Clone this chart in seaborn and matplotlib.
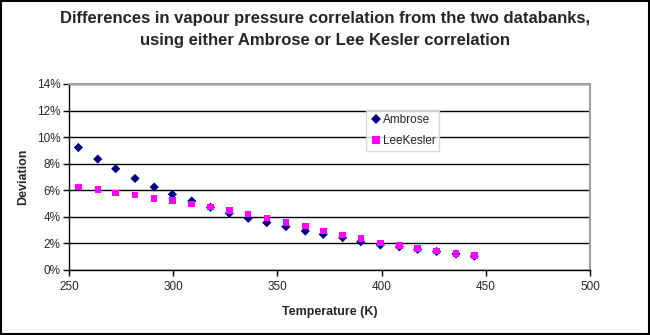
import matplotlib
matplotlib.use("Agg")
import matplotlib.pyplot as plt
import seaborn as sns
import pandas as pd
from matplotlib.ticker import PercentFormatter, MultipleLocator

temperature = [254.5, 263.8, 272.4, 281.7, 290.9, 299.6, 308.9, 317.9, 326.9, 336.0, 344.9,
               354.1, 363.4, 372.0, 381.3, 390.0, 399.4, 408.5, 417.3, 426.4, 435.7, 444.5]
ambrose = [9.22, 8.35, 7.62, 6.89, 6.24, 5.69, 5.19, 4.72, 4.26, 3.89, 3.56,
           3.26, 2.93, 2.68, 2.43, 2.13, 1.88, 1.75, 1.55, 1.39, 1.21, 1.04]
leekesler = [6.26, 6.04, 5.79, 5.64, 5.39, 5.24, 4.98, 4.74, 4.49, 4.23, 3.93,
             3.58, 3.31, 2.95, 2.65, 2.38, 2.05, 1.83, 1.60, 1.43, 1.26, 1.08]
series_names = ["Ambrose", "LeeKesler"]

df = pd.concat([
    pd.DataFrame({"T": temperature, "dev": ambrose, "series": series_names[0]}),
    pd.DataFrame({"T": temperature, "dev": leekesler, "series": series_names[1]}),
])

sns.set_theme(style="white")
plt.rcParams["font.family"] = ["Liberation Sans", "DejaVu Sans"]

fig = plt.figure(figsize=(6.5, 3.35), dpi=100)
ax = fig.add_axes([69/650, 1-270/335, (590-69)/650, (270-84)/335])

sns.scatterplot(data=df, x="T", y="dev", hue="series", style="series",
                markers={"Ambrose": "D", "LeeKesler": "s"},
                palette={"Ambrose": "#000080", "LeeKesler": "#FF00FF"},
                s=28, linewidth=0, ax=ax, zorder=3)
for coll, sz in zip(ax.collections, [22, 36]):
    coll.set_sizes([sz])

ax.set_xlim(250, 500)
ax.set_ylim(0, 14)
ax.xaxis.set_major_locator(MultipleLocator(50))
ax.yaxis.set_major_locator(MultipleLocator(2))
ax.yaxis.set_major_formatter(PercentFormatter(decimals=0))
ax.grid(axis="y", color="black", linewidth=1)
ax.set_axisbelow(True)
for s in ["left", "bottom"]:
    ax.spines[s].set_color("black")
    ax.spines[s].set_linewidth(1)
for s in ["right", "top"]:
    ax.spines[s].set_color("#a0a0a0")
    ax.spines[s].set_linewidth(1.5)
ax.tick_params(axis="both", which="major", direction="out", length=4, width=1,
               color="black", labelsize=8.5, left=True, bottom=True)
ax.tick_params(axis="y", pad=2)
ax.tick_params(axis="x", pad=4)
ax.set_xlabel("Temperature (K)", fontsize=9, fontweight="bold", labelpad=9)
ax.set_ylabel("Deviation", fontsize=9, fontweight="bold", labelpad=6)

fig.suptitle("Differences in vapour pressure correlation from the two databanks,\nusing either Ambrose or Lee Kesler correlation",
             fontsize=12, fontweight="bold", y=0.968, x=0.5, linespacing=1.6)

leg = ax.legend(title=None, loc="upper left", bbox_to_anchor=((366-69)/521, (270-110)/186),
                frameon=True, fontsize=8.5, handletextpad=0.05, borderpad=0.35,
                labelspacing=0.75, handlelength=1.0, fancybox=False, borderaxespad=0)
leg.get_frame().set_edgecolor("#d0d0d0")
leg.get_frame().set_linewidth(1)
for h, sz in zip(leg.legend_handles, [5, 6]):
    h.set_markersize(sz)

fig.patches.append(plt.Rectangle((0.002, 0.003), 0.996, 0.994, transform=fig.transFigure,
                                 fill=False, edgecolor="black", linewidth=1.5))

fig.savefig("out.png", dpi=100)
